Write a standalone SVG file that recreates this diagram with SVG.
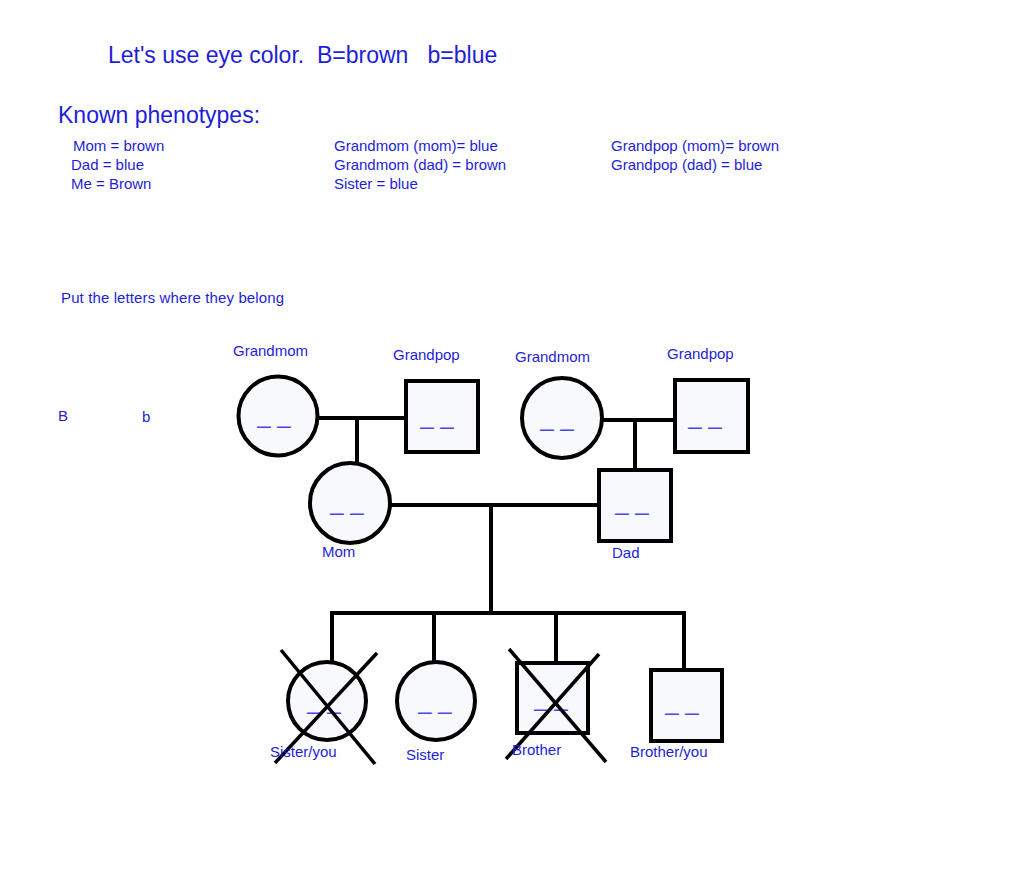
<svg xmlns="http://www.w3.org/2000/svg" width="1024" height="880" viewBox="0 0 1024 880">
<style>
text{font-family:"Liberation Sans",Arial,sans-serif;fill:#1e1ed8}
.big{font-size:23px}
.sm{font-size:15px}
.g{font-size:24px;fill:#4848e6;text-anchor:middle}
.shape{fill:#f8f9fd;stroke:#000;stroke-width:4}
.ln{stroke:#000;stroke-width:4;fill:none}
.x{stroke:#000;stroke-width:3.5;fill:none}
</style>
<rect width="1024" height="880" fill="#fff"/>
<g id="header">
<text class="big" x="108" y="63" xml:space="preserve">Let's use eye color.  B=brown   b=blue</text>
<text class="big" x="58" y="123">Known phenotypes:</text>
<text class="sm" x="73" y="151">Mom = brown</text>
<text class="sm" x="71" y="170">Dad = blue</text>
<text class="sm" x="71" y="189">Me = Brown</text>
<text class="sm" x="334" y="151">Grandmom (mom)= blue</text>
<text class="sm" x="334" y="170">Grandmom (dad) = brown</text>
<text class="sm" x="334" y="189">Sister = blue</text>
<text class="sm" x="611" y="151">Grandpop (mom)= brown</text>
<text class="sm" x="611" y="170">Grandpop (dad) = blue</text>
<text class="sm" x="61" y="303" textLength="223">Put the letters where they belong</text>
<text class="sm" x="58" y="421">B</text>
<text class="sm" x="142" y="422">b</text>
</g>
<g id="connectors">
<line class="ln" x1="318" y1="418" x2="406" y2="418"/>
<line class="ln" x1="357" y1="418" x2="357" y2="464"/>
<line class="ln" x1="602" y1="420" x2="675" y2="420"/>
<line class="ln" x1="635" y1="420" x2="635" y2="470"/>
<line class="ln" x1="390" y1="505" x2="599" y2="505"/>
<line class="ln" x1="491" y1="505" x2="491" y2="613"/>
<polyline class="ln" points="332,662 332,613 684,613 684,670"/>
<line class="ln" x1="434" y1="613" x2="434" y2="662"/>
<line class="ln" x1="556" y1="613" x2="556" y2="663"/>
</g>
<g id="grandmom1">
<circle class="shape" cx="278" cy="416" r="39.5"/>
<text class="g" x="274" y="423">_ _</text>
<text class="sm" x="233" y="356">Grandmom</text>
</g>
<g id="grandpop1">
<rect class="shape" x="406" y="381" width="72" height="71"/>
<text class="g" x="437" y="424">_ _</text>
<text class="sm" x="393" y="360">Grandpop</text>
</g>
<g id="grandmom2">
<circle class="shape" cx="562" cy="418" r="40"/>
<text class="g" x="557" y="426">_ _</text>
<text class="sm" x="515" y="362">Grandmom</text>
</g>
<g id="grandpop2">
<rect class="shape" x="675" y="380" width="73" height="72"/>
<text class="g" x="705" y="424">_ _</text>
<text class="sm" x="667" y="359">Grandpop</text>
</g>
<g id="mom">
<circle class="shape" cx="350" cy="503" r="40"/>
<text class="g" x="347" y="510">_ _</text>
<text class="sm" x="322" y="557">Mom</text>
</g>
<g id="dad">
<rect class="shape" x="599" y="470" width="72" height="71"/>
<text class="g" x="632" y="510">_ _</text>
<text class="sm" x="612" y="558">Dad</text>
</g>
<g id="sister-you">
<circle class="shape" cx="327" cy="701" r="39"/>
<text class="g" x="324" y="709">_ _</text>
<line class="x" x1="281" y1="650" x2="375" y2="764"/>
<line class="x" x1="377" y1="653" x2="275" y2="763"/>
<text class="sm" x="270" y="757">Sister/you</text>
</g>
<g id="sister">
<circle class="shape" cx="436" cy="701" r="39"/>
<text class="g" x="435" y="709">_ _</text>
<text class="sm" x="406" y="760">Sister</text>
</g>
<g id="brother">
<rect class="shape" x="517" y="663" width="71" height="70"/>
<text class="g" x="551" y="706">_ _</text>
<line class="x" x1="509" y1="649" x2="606" y2="762"/>
<line class="x" x1="599" y1="654" x2="506" y2="759"/>
<text class="sm" x="512" y="755">Brother</text>
</g>
<g id="brother-you">
<rect class="shape" x="651" y="670" width="71" height="71"/>
<text class="g" x="682" y="710">_ _</text>
<text class="sm" x="630" y="757">Brother/you</text>
</g>
</svg>
